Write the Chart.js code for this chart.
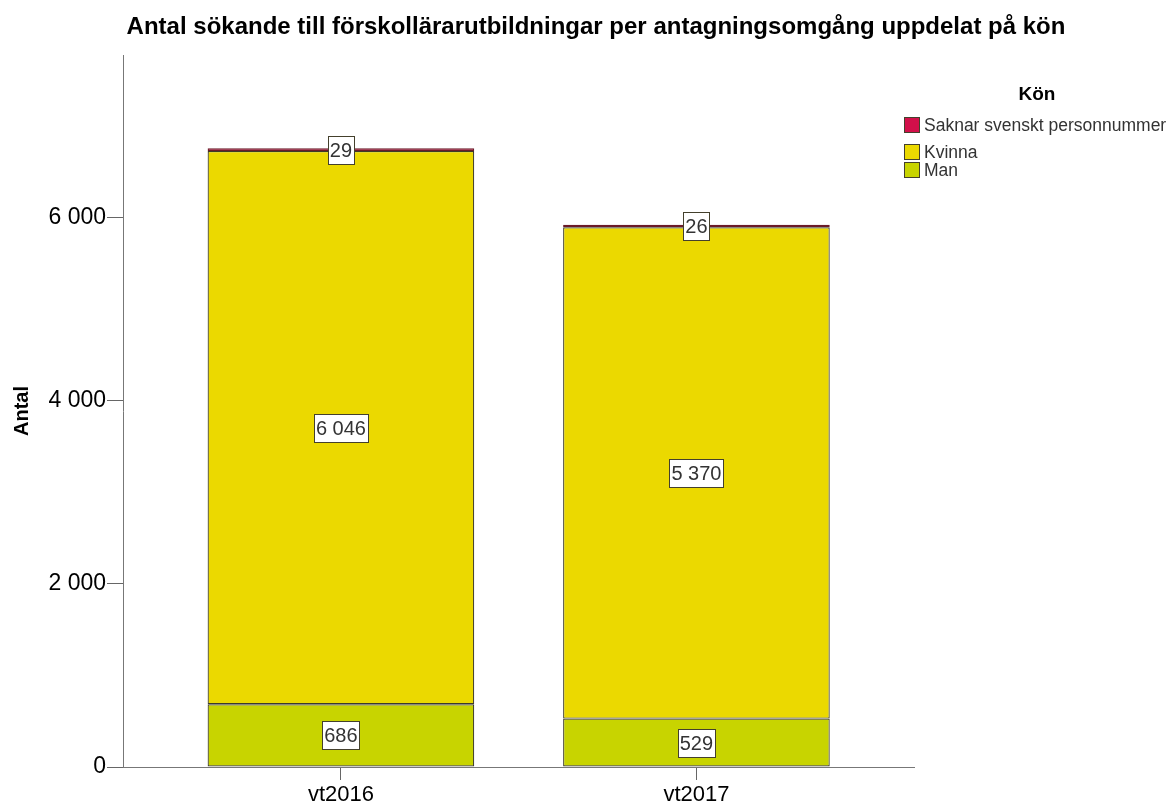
<!DOCTYPE html>
<html>

<head>
    <title>Antal sökande till förskollärarutbildningar</title>
    <script src="https://cdn.jsdelivr.net/npm/chart.js"></script>
    <style>
        body {
            margin: 0;
            background: #fff;
        }

        canvas {
            display: block;
        }
    </style>
</head>

<body>
    <canvas id="chart-sokande" width="1176" height="806"></canvas>

    <script>
        // Data
        const categories = ['vt2016', 'vt2017'];
        const man = [686, 529];
        const kvinna = [6046, 5370];
        const saknar = [29, 26];
        const yTicks = [0, 2000, 4000, 6000];
        const seriesNames = ['Man', 'Kvinna', 'Saknar svenskt personnummer'];

        const FONT = "'Liberation Sans', Arial, sans-serif";

        function fmt(v) {
            return String(v).replace(/\B(?=(\d{3})+(?!\d))/g, ' ');
        }

        function toPoints(values) {
            return values.map((v, i) => ({ x: i, y: v }));
        }

        // White boxes with the value in the middle of each segment
        const valueLabels = {
            id: 'valueLabels',
            afterDatasetsDraw(chart) {
                const ctx = chart.ctx;
                ctx.save();
                ctx.font = '20px ' + FONT;
                ctx.textAlign = 'center';
                ctx.textBaseline = 'middle';
                chart.data.datasets.forEach((ds, di) => {
                    const meta = chart.getDatasetMeta(di);
                    meta.data.forEach((bar, i) => {
                        const p = bar.getProps(['x', 'y', 'base'], true);
                        const cy = Math.round((p.y + p.base) / 2);
                        const txt = fmt(ds.data[i].y);
                        const w = Math.round(ctx.measureText(txt).width) + 4;
                        const h = 28;
                        const bx = Math.round(p.x - w / 2) + 0.5;
                        const by = Math.round(cy - h / 2) + 0.5;
                        ctx.fillStyle = '#fff';
                        ctx.fillRect(bx, by, w, h);
                        ctx.strokeStyle = '#44402c';
                        ctx.lineWidth = 1;
                        ctx.strokeRect(bx, by, w, h);
                        ctx.fillStyle = '#333';
                        ctx.fillText(txt, p.x, cy + 1);
                    });
                });
                ctx.restore();
            }
        };

        // Legend on the right, top-down in reverse stacking order
        const konLegend = {
            id: 'konLegend',
            afterDraw(chart) {
                const ctx = chart.ctx;
                ctx.save();
                ctx.fillStyle = '#000';
                ctx.font = 'bold 19px ' + FONT;
                ctx.textAlign = 'center';
                ctx.textBaseline = 'middle';
                ctx.fillText('Kön', 1037, 95);

                const rowsY = [125, 152, 170];
                const items = chart.data.datasets.slice().reverse();
                ctx.font = '17.5px ' + FONT;
                ctx.textAlign = 'left';
                items.forEach((ds, i) => {
                    const y = rowsY[i];
                    ctx.fillStyle = ds.backgroundColor;
                    ctx.fillRect(904.5, y - 7.5, 15, 15);
                    ctx.strokeStyle = '#44402c';
                    ctx.lineWidth = 1;
                    ctx.strokeRect(904.5, y - 7.5, 15, 15);
                    ctx.fillStyle = '#333';
                    ctx.fillText(ds.label, 924, y + 1);
                });
                ctx.restore();
            }
        };

        const barStyle = {
            borderColor: '#3c3a28',
            borderWidth: 1.2,
            borderSkipped: false,
            barPercentage: 0.75,
            categoryPercentage: 1
        };

        const ctxSokande = document.getElementById('chart-sokande').getContext('2d');
        const chartSokande = new Chart(ctxSokande, {
            type: 'bar',
            data: {
                datasets: [
                    Object.assign({ label: seriesNames[0], data: toPoints(man), backgroundColor: '#c8d400' }, barStyle),
                    Object.assign({ label: seriesNames[1], data: toPoints(kvinna), backgroundColor: '#ebd900' }, barStyle),
                    Object.assign({ label: seriesNames[2], data: toPoints(saknar), backgroundColor: '#d2104a' }, barStyle, { borderColor: '#6a1a28' })
                ]
            },
            options: {
                responsive: false,
                animation: false,
                devicePixelRatio: 1,
                layout: {
                    padding: { left: 16, right: 0, top: 0, bottom: 0 }
                },
                plugins: {
                    legend: { display: false },
                    tooltip: { enabled: false },
                    title: {
                        display: true,
                        text: 'Antal sökande till förskollärarutbildningar per antagningsomgång uppdelat på kön',
                        color: '#000',
                        font: { family: FONT, size: 24, weight: 'bold', lineHeight: 1.2 },
                        padding: { top: 13, bottom: 13.2 }
                    }
                },
                scales: {
                    x: {
                        type: 'linear',
                        stacked: true,
                        offset: false,
                        min: -0.613,
                        max: 1.612,
                        afterBuildTicks: (scale) => {
                            scale.ticks = categories.map((c, i) => ({ value: i }));
                        },
                        afterFit: (scale) => {
                            scale.height = 39;
                        },
                        ticks: {
                            color: '#000',
                            padding: 2,
                            maxRotation: 0,
                            font: { family: FONT, size: 22 },
                            callback: (v) => categories[v]
                        },
                        grid: {
                            offset: false,
                            drawOnChartArea: false,
                            drawTicks: true,
                            tickLength: 13,
                            color: '#666'
                        },
                        border: { display: true, color: '#777' }
                    },
                    y: {
                        stacked: true,
                        min: 0,
                        max: 7781,
                        afterBuildTicks: (scale) => {
                            scale.ticks = yTicks.map(v => ({ value: v }));
                        },
                        afterFit: (scale) => {
                            scale.width = 107;
                        },
                        ticks: {
                            color: '#000',
                            padding: 1,
                            font: { family: FONT, size: 23 },
                            callback: (v) => fmt(v)
                        },
                        grid: {
                            drawOnChartArea: false,
                            drawTicks: true,
                            tickLength: 16,
                            color: '#666'
                        },
                        border: { display: true, color: '#777' },
                        title: {
                            display: true,
                            text: 'Antal',
                            color: '#000',
                            font: { family: FONT, size: 20, weight: 'bold', lineHeight: 1.2 },
                            padding: { top: -6, bottom: 0 }
                        }
                    },
                    // keeps the space on the right free for the legend
                    pad: {
                        type: 'linear',
                        position: 'right',
                        display: true,
                        afterFit: (scale) => {
                            scale.width = 262;
                        },
                        ticks: { display: false },
                        grid: { display: false },
                        border: { display: false }
                    }
                }
            },
            plugins: [valueLabels, konLegend]
        });
    </script>
</body>

</html>
